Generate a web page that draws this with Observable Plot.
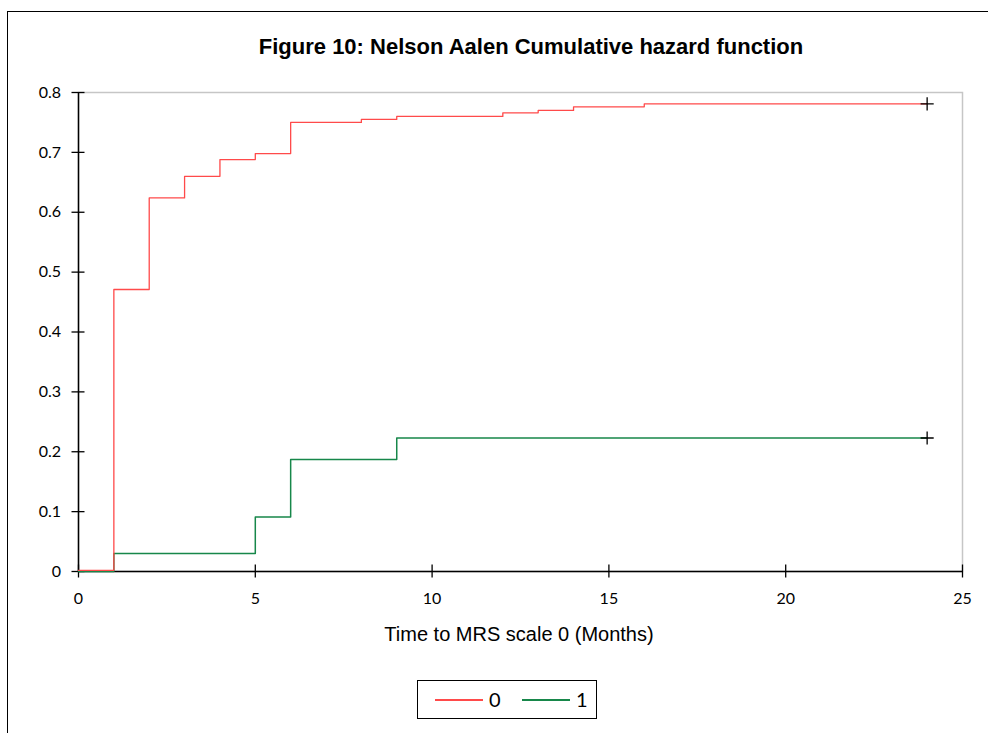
<!DOCTYPE html>
<html>
<head>
<meta charset="utf-8">
<script src="https://cdn.jsdelivr.net/npm/d3@7"></script>
<script src="https://cdn.jsdelivr.net/npm/@observablehq/plot@0.6"></script>
<style>
  body { margin: 0; background: #fff; }
  #wrap { position: relative; width: 988px; height: 733px; overflow: hidden; }
  #outer { position: absolute; left: 7px; top: 11px; width: 1100px; height: 800px; border: 1.5px solid #000; box-sizing: border-box; }
  #title { position: absolute; left: 0; width: 1062px; top: 34px; text-align: center; font: bold 22px "Liberation Sans", Arial, sans-serif; color: #000; }
  #xlabel { position: absolute; left: 0; width: 1038px; top: 623px; text-align: center; font: 20px "Liberation Sans", Arial, sans-serif; color: #000; }
  #legend { position: absolute; left: 417px; top: 680px; width: 180px; height: 39px; border: 1.3px solid #000; box-sizing: border-box; font: 20px Lato, sans-serif; }
  #legend .sw { position: absolute; top: 18px; width: 48px; height: 1.6px; }
  #legend .lb { position: absolute; top: 6px; }
  #chart { position: absolute; left: 0; top: 0; }
</style>
</head>
<body>
<div id="wrap">
  <div id="outer"></div>
  <div id="title">Figure 10: Nelson Aalen Cumulative hazard function</div>
  <div id="chart"></div>
  <div id="xlabel">Time to MRS scale 0 (Months)</div>
  <div id="legend">
    <div class="sw" style="left:17px;background:#ff4a4a"></div><div class="lb" style="left:71px">0</div>
    <div class="sw" style="left:104px;background:#17874a"></div><div class="lb" style="left:158px">1</div>
  </div>
</div>
<script>
// Group 0 (red) step function
const time0 = [0, 1, 2, 3, 4, 5, 6, 8, 9, 12, 13, 14, 16, 24];
const hazard0 = [0.002, 0.471, 0.624, 0.660, 0.688, 0.698, 0.750, 0.755, 0.760, 0.766, 0.770, 0.776, 0.781, 0.781];
// Group 1 (green) step function
const time1 = [0, 1, 5, 6, 9, 24];
const hazard1 = [0, 0.030, 0.091, 0.187, 0.223, 0.223];
// Censored end points
const censorTime = [24, 24];
const censorHazard = [0.781, 0.223];

const xTicks = [0, 5, 10, 15, 20, 25];
const yTicks = [0, 0.1, 0.2, 0.3, 0.4, 0.5, 0.6, 0.7, 0.8];

const s0 = time0.map((t, i) => ({t, h: hazard0[i]}));
const s1 = time1.map((t, i) => ({t, h: hazard1[i]}));
const cens = censorTime.map((t, i) => ({t, h: censorHazard[i]}));

const chart = Plot.plot({
  width: 988,
  height: 660,
  marginLeft: 78,
  marginRight: 26,
  marginTop: 92,
  marginBottom: 89,
  style: { fontFamily: "Lato, 'Open Sans', sans-serif", fontSize: "16px", color: "#000", background: "transparent" },
  x: { domain: [0, 25] },
  y: { domain: [0, 0.8] },
  marks: [
    Plot.frame({ stroke: "#c6c6c6", strokeWidth: 1.5 }),
    Plot.axisX(xTicks, { tickSize: 13, dy: -6.5, tickPadding: 15, label: null, tickFormat: d => String(d), stroke: "#000", strokeWidth: 1.3 }),
    Plot.axisY(yTicks, { tickSize: 13, dx: 6.5, tickPadding: 11, label: null, tickFormat: d => String(d), stroke: "#000", strokeWidth: 1.3 }),
    Plot.ruleX([0], { stroke: "#000", strokeWidth: 1.5 }),
    Plot.ruleY([0], { stroke: "#000", strokeWidth: 1.5 }),
    Plot.line(s1, { x: "t", y: "h", curve: "step-after", stroke: "#17874a", strokeWidth: 1.5 }),
    Plot.line(s0, { x: "t", y: "h", curve: "step-after", stroke: "#ff4a4a", strokeWidth: 1.3 }),
    Plot.dot(cens, { x: "t", y: "h", symbol: "plus", r: 4.3, stroke: "#000", strokeWidth: 1.3 })
  ]
});
document.getElementById("chart").appendChild(chart);
</script>
</body>
</html>
